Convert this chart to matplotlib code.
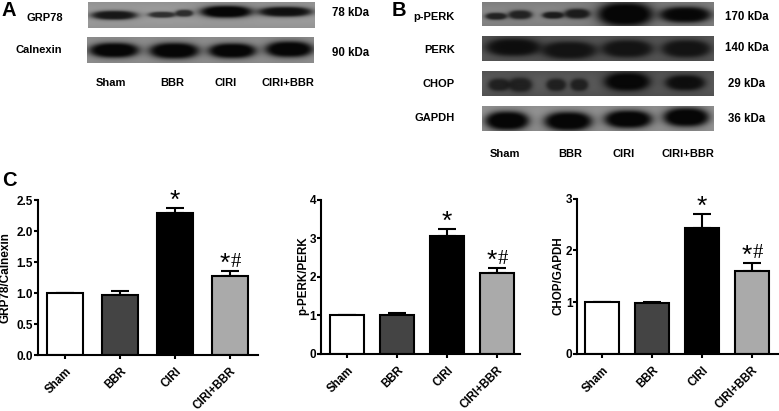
import matplotlib
matplotlib.use("Agg")
import matplotlib.pyplot as plt
import matplotlib.transforms as mtrans
import numpy as np

W = 779
H = 411
plt.rcParams["font.family"] = ["Liberation Sans", "DejaVu Sans"]
plt.rcParams["font.weight"] = "bold"

groups = ["Sham", "BBR", "CIRI", "CIRI+BBR"]
bar_colors = ["white", "#444444", "black", "#aaaaaa"]

grp78_mean = [1.0, 0.97, 2.29, 1.28]
grp78_err = [0, 0.06, 0.08, 0.07]
perk_mean = [1.0, 1.0, 3.07, 2.09]
perk_err = [0, 0.05, 0.17, 0.13]
chop_mean = [1.0, 0.99, 2.43, 1.60]
chop_err = [0, 0.02, 0.27, 0.16]

grp78_ticks = [0.0, 0.5, 1.0, 1.5, 2.0, 2.5]
perk_ticks = [0, 1, 2, 3, 4]
chop_ticks = [0, 1, 2, 3]

# band density per lane, 0 = nothing, 1 = black
grp78_bands = [0.85, 0.7, 1.0, 0.9]
calnexin_bands = [1.0, 1.0, 1.0, 1.0]
pperk_bands = [0.75, 0.8, 1.0, 0.95]
perk_bands = [0.85, 0.8, 0.8, 0.8]
chop_bands = [0.65, 0.65, 0.95, 0.85]
gapdh_bands = [1.0, 1.0, 1.0, 1.0]

fig = plt.figure(figsize=(W / 100, H / 100), dpi=100)


def px_axes(x0, y0, x1, y1):
    # pixel box, y from top of the picture
    return fig.add_axes([x0 / W, 1 - y1 / H, (x1 - x0) / W, (y1 - y0) / H])


def txt(x, y, s, size=8, ha="center", **kw):
    fig.text(x / W, 1 - y / H, s, fontsize=size, ha=ha, va="center", **kw)


def blot(box, bg, lanes, density):
    x0, y0, x1, y1 = box
    ax = px_axes(x0, y0, x1, y1)
    xx, yy = np.meshgrid(np.arange(x0, x1, 0.5), np.arange(y0, y1, 0.5))
    img = np.full(xx.shape, bg, dtype=float)
    img += 0.05 * np.sin(np.pi * (yy - y0) / (y1 - y0)) - 0.025
    keep = np.ones(xx.shape)
    for lane, d in zip(lanes, density):
        for cx, hw, cy, hh in lane:
            r = np.abs((xx - cx) / hw) ** 2.6 + np.abs((yy - cy) / hh) ** 2
            keep *= 1 - d / (1 + r ** 3)
    img = np.clip(img * keep, 0.03, 1)
    ax.imshow(img, cmap="gray", vmin=0, vmax=1, aspect="auto", interpolation="bilinear")
    ax.axis("off")


# panel A
blot((88, 2, 315, 28), 0.6, [
    [(114, 23, 15, 4.5)],
    [(162, 14, 14.5, 3), (184, 9, 13, 3.5)],
    [(226, 26, 11.5, 6)],
    [(285, 27, 11.5, 5)],
], grp78_bands)
blot((87, 37, 314, 63), 0.58, [
    [(114, 25, 50, 7.5)],
    [(174, 25, 50.5, 8)],
    [(232, 24, 50.5, 7.5)],
    [(289, 24, 49, 8)],
], calnexin_bands)

# panel B
blot((482, 2, 714, 26), 0.52, [
    [(496, 11, 16, 3.5), (520, 12, 14.5, 4.5)],
    [(553, 11, 15, 3.5), (577, 13, 13.5, 5)],
    [(625, 28, 14, 12)],
    [(685, 26, 14.5, 8)],
], pperk_bands)
blot((482, 36, 714, 61), 0.36, [
    [(513, 28, 47, 9)],
    [(569, 28, 50, 9)],
    [(627, 26, 48.5, 9)],
    [(686, 25, 48.5, 9)],
], perk_bands)
blot((482, 71, 714, 96), 0.34, [
    [(499, 11, 85, 6), (520, 12, 85, 7)],
    [(556, 10, 85, 6), (579, 9, 85, 6)],
    [(627, 23, 82, 9)],
    [(685, 20, 83, 7.5)],
], chop_bands)
blot((482, 106, 714, 131), 0.6, [
    [(507, 22, 120.5, 9.5)],
    [(568, 24, 121, 9.5)],
    [(628, 24, 119, 9)],
    [(686, 23, 117, 9.5)],
], gapdh_bands)

# blot labels
txt(63, 18, "GRP78", ha="right")
txt(62, 50, "Calnexin", ha="right")
txt(455, 17, "p-PERK", ha="right")
txt(455, 50, "PERK", ha="right")
txt(455, 84, "CHOP", ha="right")
txt(455, 118, "GAPDH", ha="right")
for y, s in [(13, "78 kDa"), (53, "90 kDa")]:
    txt(351, y, s, size=8.3)
for y, s in [(17, "170 kDa"), (48, "140 kDa"), (84, "29 kDa"), (119, "36 kDa")]:
    txt(747, y, s, size=8.3)
for x, s in zip([111, 172, 226, 288], groups):
    txt(x, 83, s)
for x, s in zip([505, 570, 624, 688], groups):
    txt(x, 154, s)

txt(9, 11, "A", size=14.5)
txt(399, 10, "B", size=14.5)
txt(9, 180, "C", size=14.5)


def bar_panel(box, limits, means, errs, ticks, tick_fmt, ylabel, label_x, label_y, label_size):
    ax = px_axes(*box)
    x = np.arange(4)
    ax.bar(x, means, width=limits[1], color=bar_colors, edgecolor="black", linewidth=1.5, zorder=2)
    low = [0] * 4
    ax.errorbar(x, means, yerr=[low, errs], fmt="none", ecolor="black", elinewidth=1.5,
                capsize=6.5, capthick=1.5, zorder=1)
    ax.set_xlim(*limits[0])
    ax.set_ylim(0, ticks[-1])
    ax.set_xticks(x)
    ax.set_xticklabels(groups, rotation=45, ha="right", rotation_mode="anchor", fontsize=8.3)
    shift = mtrans.ScaledTranslation(6 / 72, 0, fig.dpi_scale_trans)
    for lab in ax.get_xticklabels():
        lab.set_transform(lab.get_transform() + shift)
    ax.set_yticks(ticks)
    ax.set_yticklabels([tick_fmt % t for t in ticks], fontsize=8.5)
    ax.tick_params(axis="both", width=1.5, length=3, pad=0.5)
    ax.tick_params(axis="x", pad=4.5)
    ax.spines["top"].set_visible(False)
    ax.spines["right"].set_visible(False)
    ax.spines["left"].set_linewidth(1.5)
    ax.spines["bottom"].set_linewidth(1.5)
    ax.patch.set_alpha(0)
    txt(label_x, label_y, ylabel, size=label_size, rotation=90)
    # significance marks
    top = [m + e for m, e in zip(means, errs)]
    ax.annotate("*", (2, top[2]), xytext=(0, 5), textcoords="offset points", ha="center",
                va="center", fontsize=19, fontweight="normal", annotation_clip=False)
    ax.annotate("*", (3, top[3]), xytext=(-4, 5), textcoords="offset points", ha="center",
                va="center", fontsize=19, fontweight="normal", annotation_clip=False)
    ax.annotate("#", (3, top[3]), xytext=(4, 6.5), textcoords="offset points", ha="center",
                va="center", fontsize=15, fontweight="normal", family="Liberation Serif",
                annotation_clip=False)


bar_panel((37.7, 200, 258, 355), ((-0.496, 3.51), 0.664), grp78_mean, grp78_err, grp78_ticks, "%.1f",
          "GRP78/Calnexin", 6, 278, 8.5)
bar_panel((321, 199.7, 520, 353.7), ((-0.52, 3.46), 0.68), perk_mean, perk_err, perk_ticks, "%d",
          "p-PERK/PERK", 303, 276, 8.4)
bar_panel((577.3, 198.7, 778, 353.7), ((-0.494, 3.52), 0.68), chop_mean, chop_err, chop_ticks, "%d",
          "CHOP/GAPDH", 558, 276, 8.4)

fig.savefig("out.png", dpi=100)
plt.close("all")
